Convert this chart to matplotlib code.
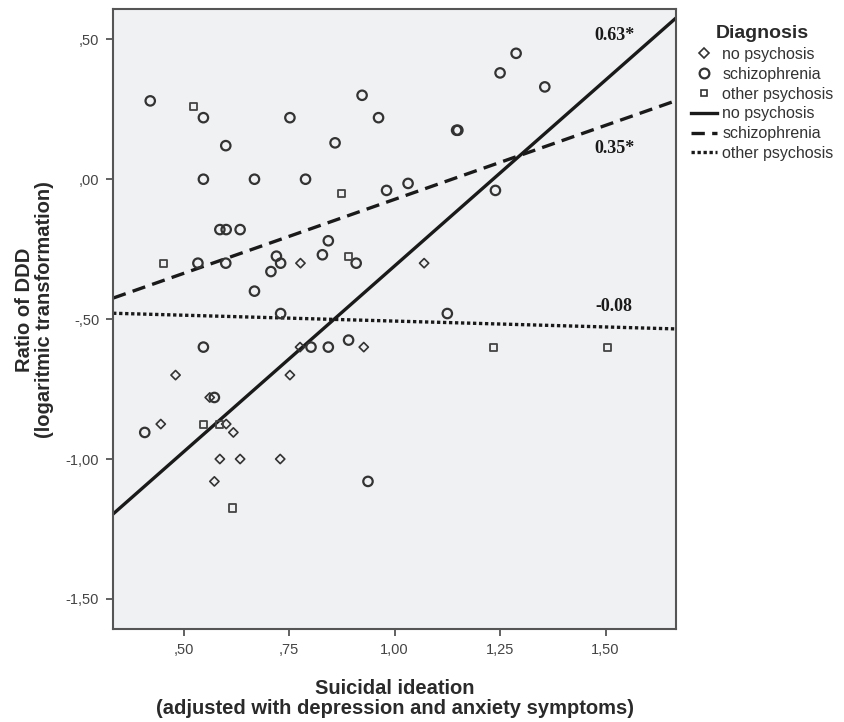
import numpy as np
import matplotlib
matplotlib.use("Agg")
import matplotlib.pyplot as plt
from matplotlib.lines import Line2D
from matplotlib.ticker import FuncFormatter

plt.rcParams['font.family'] = ['Liberation Sans Narrow', 'Liberation Sans', 'DejaVu Sans']

# data
no_psy_x = [0.777, 0.776, 0.927, 0.481, 0.752, 0.562, 0.446, 0.601, 0.618,
            0.586, 0.634, 0.729, 0.573, 1.070]
no_psy_y = [-0.30, -0.60, -0.60, -0.70, -0.70, -0.78, -0.875, -0.875, -0.905,
            -1.00, -1.00, -1.00, -1.08, -0.30]

schizo_x = [0.421, 0.547, 0.752, 0.923, 0.962, 0.600, 0.859, 0.547, 0.668,
            0.789, 0.981, 0.586, 0.601, 0.634, 0.843, 1.288, 1.250, 1.356,
            1.147, 1.150, 1.032, 1.239, 0.534, 0.600, 0.720, 0.730, 0.707,
            0.829, 0.909, 0.668, 0.730, 0.547, 0.802, 0.843, 0.891, 0.573,
            0.408, 0.937, 1.125]
schizo_y = [0.28, 0.22, 0.22, 0.30, 0.22, 0.12, 0.13, 0.00, 0.00,
            0.00, -0.04, -0.18, -0.18, -0.18, -0.22, 0.45, 0.38, 0.33,
            0.175, 0.175, -0.015, -0.04, -0.30, -0.30, -0.275, -0.30, -0.33,
            -0.27, -0.30, -0.40, -0.48, -0.60, -0.60, -0.60, -0.575, -0.78,
            -0.905, -1.08, -0.48]

other_x = [0.523, 0.875, 0.453, 0.891, 0.548, 0.585, 0.617, 1.235, 1.505]
other_y = [0.26, -0.05, -0.30, -0.275, -0.875, -0.875, -1.175, -0.60, -0.60]

groups = ['no psychosis', 'schizophrenia', 'other psychosis']
# fit lines (intercept at x=0, slope)
fit_intercept = [-1.639, -0.601, -0.465]
fit_slope = [1.329, 0.529, -0.042]
fit_labels = ['0.63*', '0.35*', '-0.08']
label_pos = [(1.52, 0.515), (1.52, 0.11), (1.52, -0.455)]

xlim = (0.333, 1.667)
ylim = (-1.607, 0.607)


def spss_fmt(v, pos=None):
    s = f"{v:.2f}".replace('.', ',')
    if s.startswith('0,'):
        s = s[1:]
    elif s.startswith('-0,'):
        s = '-' + s[2:]
    return s


fig = plt.figure(figsize=(8.44, 7.22), dpi=100)
ax = fig.add_axes([0.134, 0.129, 0.667, 0.858])
ax.set_facecolor('#f0f1f3')

edge = '#333333'
ax.scatter(no_psy_x, no_psy_y, marker='D', s=22, facecolors='none',
           edgecolors=edge, linewidths=1.2, zorder=3)
ax.scatter(schizo_x, schizo_y, marker='o', s=46, facecolors='none',
           edgecolors=edge, linewidths=1.6, zorder=3)
ax.scatter(other_x, other_y, marker='s', s=26, facecolors='none',
           edgecolors='#444444', linewidths=1.3, zorder=3)

styles = ['-', (0, (4, 2.2)), (0, (1, 0.8))]
xs = np.array(xlim)
for b0, b1, ls in zip(fit_intercept, fit_slope, styles):
    ax.plot(xs, b0 + b1 * xs, color='#1a1a1a', linestyle=ls, linewidth=2.4,
            zorder=2)

for txt, (tx, ty) in zip(fit_labels, label_pos):
    ax.text(tx, ty, txt, fontsize=13, fontweight='bold', color='#1a1a1a',
            family='Liberation Serif', ha='center', va='center')

ax.set_xlim(xlim)
ax.set_ylim(ylim)
ax.set_xticks([0.50, 0.75, 1.00, 1.25, 1.50])
ax.set_yticks([0.50, 0.00, -0.50, -1.00, -1.50])
ax.xaxis.set_major_formatter(FuncFormatter(spss_fmt))
ax.yaxis.set_major_formatter(FuncFormatter(spss_fmt))
ax.tick_params(direction='out', length=5, width=1.3, color='#555555',
               labelsize=10.5, labelcolor='#444444', pad=5)
for sp in ax.spines.values():
    sp.set_color('#555555')
    sp.set_linewidth(1.5)

ax.set_xlabel('Suicidal ideation\n(adjusted with depression and anxiety symptoms)',
              fontsize=14.5, fontweight='bold', color='#2a2a2a', labelpad=16,
              linespacing=1.05)
ax.set_ylabel('Ratio of DDD\n(logaritmic transformation)',
              fontsize=14.5, fontweight='bold', color='#2a2a2a',
              linespacing=1.05)
ax.yaxis.set_label_coords(-0.105, 0.515)

handles = [
    Line2D([], [], marker='D', ls='none', mfc='none', mec=edge, ms=5, mew=1.2),
    Line2D([], [], marker='o', ls='none', mfc='none', mec=edge, ms=7, mew=1.6),
    Line2D([], [], marker='s', ls='none', mfc='none', mec=edge, ms=5, mew=1.2),
]
for ls in styles:
    handles.append(Line2D([], [], color='#1a1a1a', ls=ls, lw=2.4))
leg = ax.legend(handles, groups + groups, title='Diagnosis', loc='upper left',
                bbox_to_anchor=(1.01, 0.99), frameon=False, fontsize=11.5,
                handlelength=1.6, handletextpad=0.35, labelspacing=0.3,
                borderaxespad=0.2)
leg.get_title().set_fontweight('bold')
leg.get_title().set_fontsize(14)
leg.get_title().set_color('#2a2a2a')
for t in leg.get_texts():
    t.set_color('#333333')

fig.savefig('out.png', dpi=100)
